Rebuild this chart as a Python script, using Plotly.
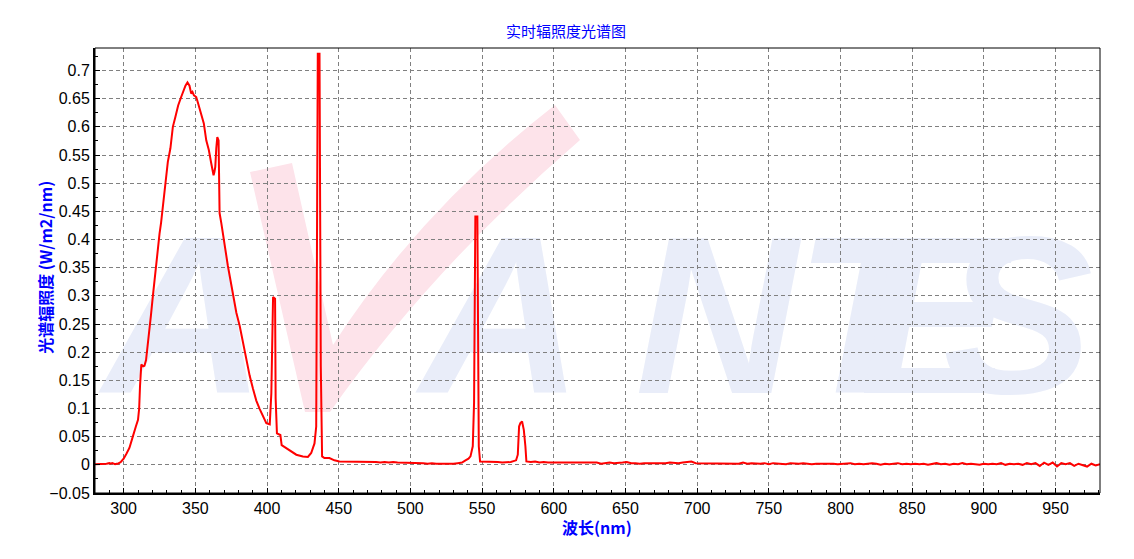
import base64
import plotly.graph_objects as go

# ---- data ----
uv_points = [
    (280, 0.001), (282, 0.001), (284, 0.001), (286, 0.002), (288, 0.002), (290, 0.003),
    (291, 0.002), (292, 0.003), (294, 0.001), (295, 0.002), (296, 0.002), (298, 0.005),
    (300, 0.011), (302, 0.020), (304, 0.030), (306, 0.047), (307, 0.057), (308.5, 0.068),
    (310, 0.080), (310.8, 0.100), (311.4, 0.140), (312.3, 0.178), (313.5, 0.175),
    (314.5, 0.176), (315.6, 0.186), (317, 0.215), (318, 0.235), (319, 0.265),
    (320.3, 0.298), (321.5, 0.330), (322.6, 0.357), (324, 0.390), (325, 0.410),
    (326.1, 0.430), (327.3, 0.458), (328.7, 0.500), (330, 0.525), (330.8, 0.538),
    (332.6, 0.562), (334.3, 0.600), (336.1, 0.618), (338, 0.638), (340.1, 0.653),
    (341.3, 0.662), (343.1, 0.673), (344.5, 0.679), (345.9, 0.673), (347.1, 0.659),
    (348, 0.662), (349, 0.656), (350.6, 0.653), (352, 0.641), (354.1, 0.623),
    (355.9, 0.606), (357.6, 0.576), (359.4, 0.559), (361.1, 0.535), (362.7, 0.514),
    (363.3, 0.520), (363.9, 0.529), (364.6, 0.562), (365.3, 0.582), (366.2, 0.576),
    (366.9, 0.447), (368.1, 0.429), (369.7, 0.400), (371.1, 0.376), (372.7, 0.353),
    (374.4, 0.329), (376.2, 0.305), (378.6, 0.270), (380.9, 0.247), (383.2, 0.217),
    (385.5, 0.188), (387.9, 0.158), (390.2, 0.135), (392.5, 0.114), (394.9, 0.099),
    (397.2, 0.085), (399.5, 0.074), (401.9, 0.072), (403, 0.127), (403.7, 0.227),
    (404.2, 0.298), (405.6, 0.295), (406, 0.118), (406.9, 0.056), (409.3, 0.053),
    (410.2, 0.035), (413.4, 0.030), (416.9, 0.024), (420.4, 0.018), (425, 0.015),
    (428.5, 0.014), (430.8, 0.021), (433.1, 0.038), (434.3, 0.068), (434.7, 0.245),
    (435, 0.558), (435.4, 0.730), (436.6, 0.730), (437, 0.458), (437.5, 0.174),
    (438.4, 0.015), (440, 0.012), (443.5, 0.012), (447, 0.008), (450.5, 0.006),
]

vis_points = [
    (452, 0.006), (455, 0.006), (458, 0.006), (461, 0.005), (464, 0.006), (467, 0.005),
    (470, 0.005), (473, 0.006), (476, 0.005), (479, 0.004), (482, 0.005), (485, 0.004),
    (488, 0.005), (491, 0.004), (494, 0.004), (497, 0.004), (500, 0.003), (503, 0.004),
    (506, 0.003), (509, 0.003), (512, 0.002), (515, 0.003), (518, 0.002), (521, 0.002),
    (524, 0.001), (527, 0.002), (530, 0.002), (533, 0.003), (536, 0.004), (538.4, 0.008),
    (540.5, 0.011), (541.9, 0.015), (543.5, 0.033), (544.4, 0.110), (544.9, 0.311),
    (545.3, 0.441), (546.7, 0.441), (547.2, 0.133), (547.7, 0.033), (548.6, 0.006),
    (551, 0.006), (554.7, 0.006), (558, 0.005), (561, 0.005), (564, 0.004), (567, 0.005),
    (570, 0.005), (573.7, 0.008), (574.9, 0.018), (575.8, 0.068), (576.7, 0.074),
    (577.9, 0.077), (579.1, 0.062), (580.2, 0.033), (580.9, 0.006), (584, 0.005),
    (587, 0.006), (590, 0.004), (593, 0.005), (596, 0.004),
]

tail_wavelength = list(range(600, 982, 3))
tail_irradiance = [
    0.004, 0.003, 0.004, 0.003, 0.003, 0.004, 0.003, 0.004, 0.003, 0.003, 0.004, 0.002, 0.003, 0.004, 0.003, 0.003, 0.004,
    0.005, 0.003, 0.003, 0.002, 0.003, 0.003, 0.002, 0.003, 0.003, 0.003, 0.004, 0.003, 0.003, 0.004, 0.005, 0.006, 0.003,
    0.003, 0.003, 0.002, 0.003, 0.002, 0.003, 0.002, 0.002, 0.003, 0.002, 0.004, 0.002, 0.003, 0.002, 0.002, 0.003, 0.001,
    0.003, 0.002, 0.002, 0.001, 0.003, 0.002, 0.002, 0.003, 0.002, 0.001, 0.002, 0.002, 0.003, 0.002, 0.002, 0.001, 0.002,
    0.002, 0.003, 0.001, 0.002, 0.001, 0.002, 0.003, 0.002, 0.000, 0.002, 0.001, 0.002, 0.003, 0.001, 0.002, 0.001, 0.002,
    0.001, 0.002, 0.000, 0.002, 0.003, 0.001, 0.002, 0.000, 0.002, 0.001, 0.003, 0.001, 0.002, 0.001, 0.000, 0.002, 0.001,
    0.002, 0.001, 0.003, 0.000, 0.002, 0.001, 0.002, 0.000, 0.003, 0.001, 0.003, -0.002, 0.004, 0.000, 0.004, -0.003, 0.003,
    0.001, 0.003, -0.002, 0.002, 0.000, -0.003, 0.002, -0.001, 0.001,
]

wavelength = [p[0] for p in uv_points] + [p[0] for p in vis_points] + tail_wavelength[:len(tail_irradiance)]
irradiance = [p[1] for p in uv_points] + [p[1] for p in vis_points] + tail_irradiance[:len(tail_wavelength)]

title_text = "实时辐照度光谱图"
x_title = "波长(nm)"
y_title = "光谱辐照度 (W/m2/nm)"
x_range = [280, 981]
y_range = [-0.05, 0.74]

# ---- watermark (decoration, drawn below the grid) ----
W, H = 1005, 445
svg = f'''<svg xmlns="http://www.w3.org/2000/svg" width="{W}" height="{H}" viewBox="0 0 {W} {H}">
<g font-family="Liberation Sans, Arial, sans-serif" font-weight="bold" font-style="italic" font-size="225" fill="#e9edf9">
<text x="8" y="345">A</text>
<text x="325" y="345">A</text>
<text x="540" y="345">N</text>
<text x="700" y="345">T</text>
<text x="765" y="345">E</text>
<text x="848" y="345">S</text>
</g>
<path d="M 155,124 L 197,115 L 238,297 Q 325,162 460,57 L 485,92 Q 335,222 235,364 L 210,364 Z" fill="#fde3ea"/>
</svg>'''
svg_uri = "data:image/svg+xml;base64," + base64.b64encode(svg.encode("utf-8")).decode("ascii")

fig = go.Figure()
fig.add_trace(go.Scatter(
    x=wavelength, y=irradiance, mode="lines",
    line=dict(color="#ff0000", width=2), showlegend=False,
))

grid = dict(showgrid=True, gridcolor="#808080", gridwidth=1, griddash="4px,3px")
tickfont = dict(family="Liberation Sans, Arial, sans-serif", size=16, color="#000000")
cjk_blue = dict(family="Noto Sans CJK SC", size=16, color="#0000ff")

fig.update_layout(
    width=1126, height=551,
    margin=dict(l=87, r=34, t=40, b=66),
    paper_bgcolor="#ffffff",
    plot_bgcolor="rgba(0,0,0,0)",
    title=dict(text=title_text, x=0.4956, xanchor="center", y=0.9564, yanchor="middle",
               font=dict(family="Noto Sans CJK SC", size=15, color="#0000ff")),
    images=[dict(source=svg_uri, xref="paper", yref="paper", x=0, y=1, sizex=1, sizey=1,
                 xanchor="left", yanchor="top", sizing="stretch", layer="below")],
    shapes=[dict(type="rect", xref="paper", yref="paper", x0=0, y0=0, x1=1, y1=1,
                 line=dict(color="#000000", width=1), layer="above")],
    annotations=[
        dict(text=f"<b>{x_title}</b>", xref="paper", yref="paper", x=0.4995, y=0,
             xanchor="center", yanchor="middle", yshift=-34, showarrow=False, font=cjk_blue),
        dict(text=f"<b>{y_title}</b>", xref="paper", yref="paper", x=0, y=0.506,
             xanchor="center", yanchor="middle", xshift=-50, textangle=-90,
             showarrow=False, font=cjk_blue),
    ],
)

fig.update_xaxes(
    range=x_range, dtick=50, tick0=300, **grid,
    showline=True, linecolor="#000000", linewidth=2,
    ticks="inside", ticklen=5, tickcolor="#000000", tickfont=tickfont,
    minor=dict(dtick=10, ticks="inside", ticklen=3, tickcolor="#000000", showgrid=False),
    zeroline=False,
)
fig.update_yaxes(
    range=y_range, dtick=0.05, tick0=0, **grid,
    showline=True, linecolor="#000000", linewidth=2,
    ticks="inside", ticklen=5, tickcolor="#000000", tickfont=tickfont,
    minor=dict(dtick=0.025, ticks="inside", ticklen=3, tickcolor="#000000", showgrid=False),
    zeroline=False,
)

fig.write_html("out.html")
